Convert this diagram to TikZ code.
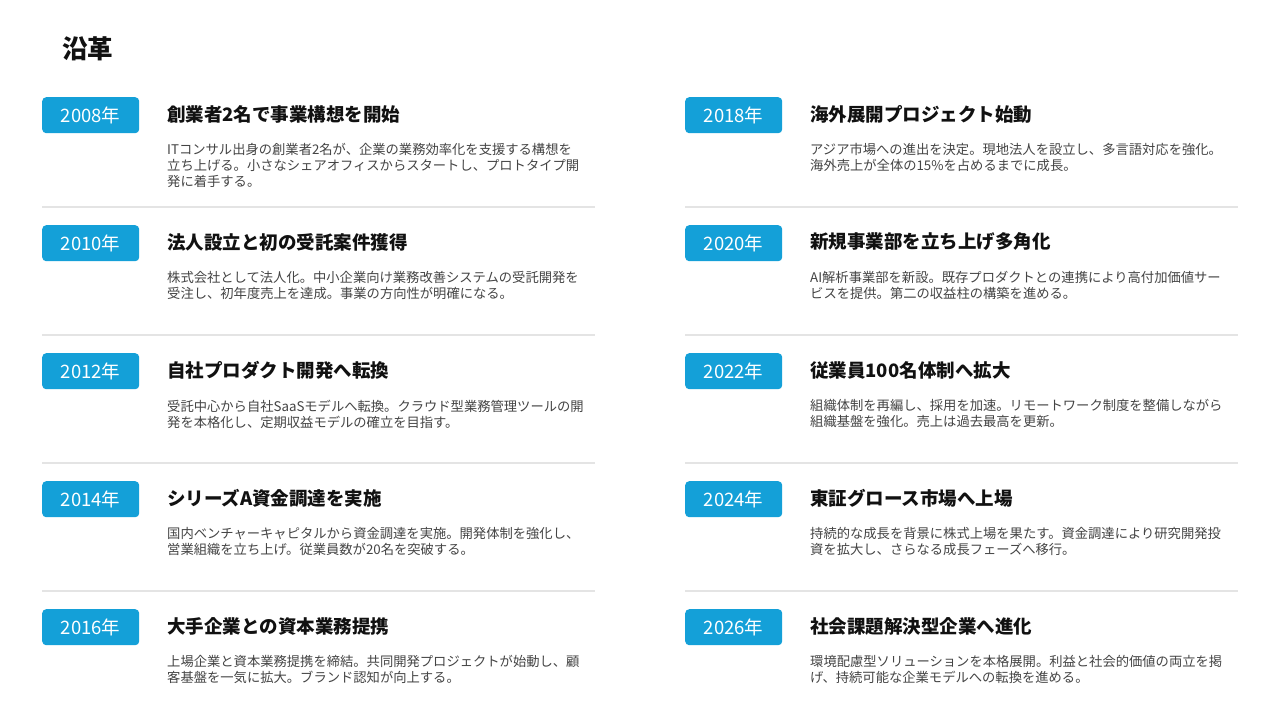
\documentclass[tikz,border=0pt]{standalone}
\usepackage{fontspec}
\setmainfont{Noto Sans CJK JP}
\definecolor{badgeblue}{RGB}{20,160,216}
\definecolor{headc}{RGB}{17,17,17}
\definecolor{descc}{RGB}{68,68,68}
\definecolor{sepc}{RGB}{228,228,228}
\newcommand{\tlrow}[6]{%
  \node[badge, anchor=north west] (y#1) at (42+#2,#3) {#4};
  \node[heading] (h#1) at (167+#2,#3+17) {#5};
  \node[desc] (d#1) at (167+#2,#3+46.5) {#6};
}
\begin{document}
\begin{tikzpicture}[x=1pt,y=-1pt,
  badge/.style={fill=badgeblue, rounded corners=4pt, minimum width=97pt, minimum height=36pt, inner sep=0pt, text=white, font=\fontsize{18.5}{20}\selectfont},
  heading/.style={anchor=west, inner sep=0pt, text=headc, font=\fontsize{18.5}{22}\selectfont\bfseries},
  desc/.style={anchor=north west, inner sep=0pt, align=left, text=descc, font=\fontsize{13.3}{16}\selectfont},
  sepline/.style={draw=sepc, line width=1.5pt},
  titlestyle/.style={anchor=west, inner sep=0pt, text=headc, font=\fontsize{25.5}{30}\selectfont\bfseries}]
\useasboundingbox[fill=white] (0,0) rectangle (1280,720);
\node[titlestyle] (title) at (62,48.5) {沿革};
% left column
\tlrow{a}{0}{97}{2008年}{創業者2名で事業構想を開始}{ITコンサル出身の創業者2名が、企業の業務効率化を支援する構想を\\立ち上げる。小さなシェアオフィスからスタートし、プロトタイプ開\\発に着手する。}
\tlrow{b}{0}{225}{2010年}{法人設立と初の受託案件獲得}{株式会社として法人化。中小企業向け業務改善システムの受託開発を\\受注し、初年度売上を達成。事業の方向性が明確になる。}
\tlrow{c}{0}{353}{2012年}{自社プロダクト開発へ転換}{受託中心から自社SaaSモデルへ転換。クラウド型業務管理ツールの開\\発を本格化し、定期収益モデルの確立を目指す。}
\tlrow{d}{0}{481}{2014年}{シリーズA資金調達を実施}{国内ベンチャーキャピタルから資金調達を実施。開発体制を強化し、\\営業組織を立ち上げ。従業員数が20名を突破する。}
\tlrow{e}{0}{609}{2016年}{大手企業との資本業務提携}{上場企業と資本業務提携を締結。共同開発プロジェクトが始動し、顧\\客基盤を一気に拡大。ブランド認知が向上する。}
% right column
\tlrow{f}{643}{97}{2018年}{海外展開プロジェクト始動}{アジア市場への進出を決定。現地法人を設立し、多言語対応を強化。\\海外売上が全体の15\%を占めるまでに成長。}
\tlrow{g}{643}{225}{2020年}{新規事業部を立ち上げ多角化}{AI解析事業部を新設。既存プロダクトとの連携により高付加価値サー\\ビスを提供。第二の収益柱の構築を進める。}
\tlrow{h}{643}{353}{2022年}{従業員100名体制へ拡大}{組織体制を再編し、採用を加速。リモートワーク制度を整備しながら\\組織基盤を強化。売上は過去最高を更新。}
\tlrow{i}{643}{481}{2024年}{東証グロース市場へ上場}{持続的な成長を背景に株式上場を果たす。資金調達により研究開発投\\資を拡大し、さらなる成長フェーズへ移行。}
\tlrow{j}{643}{609}{2026年}{社会課題解決型企業へ進化}{環境配慮型ソリューションを本格展開。利益と社会的価値の両立を掲\\げ、持続可能な企業モデルへの転換を進める。}
% separators
\foreach \k/\yy in {1/207,2/335,3/463,4/591}{
  \coordinate (sl\k a) at (42,\yy);
  \coordinate (sl\k b) at (595,\yy);
  \coordinate (sr\k a) at (685,\yy);
  \coordinate (sr\k b) at (1238,\yy);
  \draw[sepline] (sl\k a) -- (sl\k b);
  \draw[sepline] (sr\k a) -- (sr\k b);
}
\end{tikzpicture}
\end{document}
